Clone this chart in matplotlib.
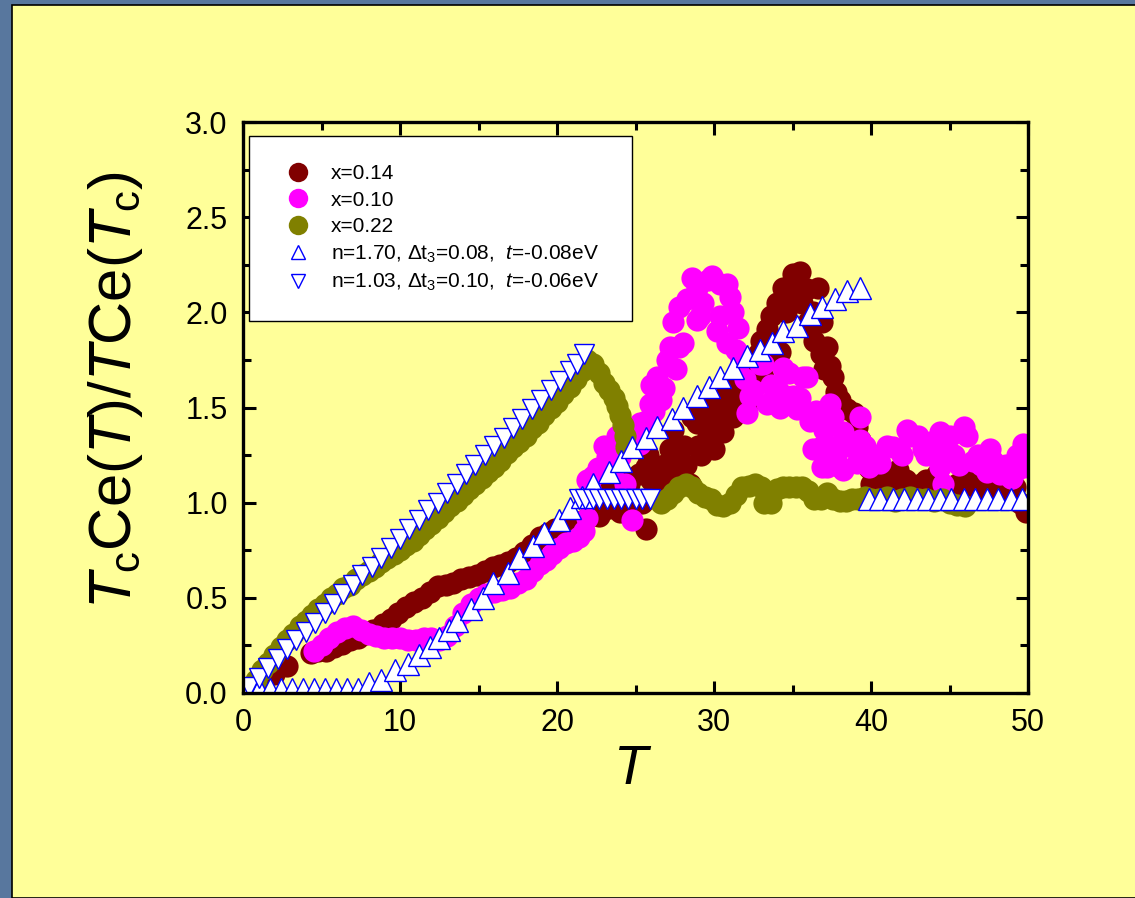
import matplotlib
matplotlib.use("Agg")
import matplotlib.pyplot as plt
from matplotlib.lines import Line2D
from matplotlib.patches import Rectangle

plt.rcParams['font.family'] = ['Liberation Sans', 'DejaVu Sans']
plt.rcParams['mathtext.fontset'] = 'custom'
plt.rcParams['mathtext.rm'] = 'Liberation Sans'
plt.rcParams['mathtext.it'] = 'Liberation Sans:italic'
plt.rcParams['mathtext.bf'] = 'Liberation Sans:bold'

# x=0.14 (dark red circles)
t_014 = [1.2, 2.0, 2.8, 4.3, 4.8, 5.3, 5.8, 6.3, 6.8, 7.3, 7.8, 8.3, 8.9, 9.4, 9.9, 10.4,
         10.9, 11.4, 11.9, 12.4, 12.9, 13.4, 13.9, 14.4, 14.9, 15.4, 15.9, 16.4, 16.9, 17.4,
         17.9, 18.4, 18.9, 19.4, 19.9, 20.4, 20.9, 21.4, 21.9, 22.4, 22.7, 22.9, 23.3, 23.7,
         24.0, 24.3, 24.6, 24.8, 25.0, 25.4, 25.7, 25.7, 26.0, 26.4, 26.6, 26.8, 26.8, 27.2,
         27.5, 27.8, 28.1, 28.5, 28.9, 29.2, 29.6, 29.9, 30.2, 30.4, 30.6, 31.0, 31.3, 31.7,
         32.1, 32.5, 33.1, 33.4, 33.4, 33.8, 34.2, 34.4, 34.8, 35.2, 35.5, 35.9, 36.3, 36.6,
         36.9, 37.2, 37.4, 37.6, 37.8, 38.0, 38.5, 38.9, 39.1, 39.3, 39.6, 39.9, 40.3, 40.8,
         41.2, 41.7, 42.2, 42.7, 43.2, 43.5, 44.0, 44.5, 45.0, 45.5, 46.0, 46.5, 47.0, 47.5,
         48.0, 48.5, 49.0, 49.5, 49.9,
         23.0, 23.5, 24.0, 24.5, 25.2, 25.8, 26.2, 27.0, 27.4, 28.2, 28.6, 29.0, 29.4, 29.8,
         30.0, 30.8, 31.2, 31.6, 32.0, 32.4, 32.8, 33.0, 33.6, 34.0, 34.6, 35.0, 35.6, 36.0,
         36.4, 36.8, 37.0, 38.2, 40.0, 41.0, 42.0, 43.0, 44.2, 45.2, 46.2, 47.2, 48.2, 49.2]
v_014 = [0.05, 0.10, 0.14, 0.21, 0.22, 0.22, 0.24, 0.26, 0.28, 0.29, 0.31, 0.33, 0.36, 0.39, 0.42, 0.45,
         0.48, 0.50, 0.53, 0.56, 0.57, 0.58, 0.60, 0.61, 0.62, 0.64, 0.66, 0.67, 0.69, 0.71,
         0.74, 0.78, 0.82, 0.84, 0.86, 0.87, 0.89, 0.90, 0.92, 0.94, 0.93, 0.96, 0.97, 1.00,
         0.95, 1.05, 1.10, 0.98, 1.02, 1.00, 0.86, 1.19, 1.12, 1.18, 1.10, 1.07, 1.20, 1.28,
         1.15, 1.21, 1.30, 1.10, 1.42, 1.25, 1.35, 1.35, 1.45, 1.54, 1.37, 1.48, 1.60, 1.63,
         1.52, 1.70, 1.66, 1.77, 1.91, 1.85, 1.79, 2.13, 2.05, 2.12, 2.21, 2.12, 2.00, 2.13,
         1.95, 1.82, 1.72, 1.66, 1.58, 1.54, 1.49, 1.47, 1.40, 1.33, 1.25, 1.18, 1.12, 1.10,
         1.14, 1.17, 1.12, 1.08, 1.10, 1.12, 1.08, 1.05, 1.08, 1.10, 1.12, 1.10, 1.08, 1.06,
         1.05, 1.05, 1.03, 1.00, 0.95,
         1.05, 1.08, 1.12, 1.00, 1.15, 1.25, 1.05, 1.12, 1.38, 1.20, 1.45, 1.30, 1.50, 1.42,
         1.28, 1.58, 1.45, 1.52, 1.68, 1.60, 1.78, 1.85, 1.98, 2.05, 2.00, 2.20, 2.05, 1.95,
         1.85, 1.78, 1.70, 1.50, 1.10, 1.05, 1.05, 1.04, 1.15, 1.05, 1.05, 1.12, 1.10, 1.08]

# x=0.10 (magenta circles)
t_010 = [4.5, 5.0, 5.5, 6.0, 6.5, 7.0, 7.5, 8.0, 8.5, 9.0, 9.5, 10.0, 10.5, 11.0, 11.5,
         12.0, 12.5, 13.0, 13.5, 14.0, 14.5, 15.0, 15.5, 16.0, 16.5, 17.0, 17.5, 18.0, 18.5,
         18.9, 19.3, 19.7, 20.1, 20.6, 21.0, 21.4, 21.7, 21.9, 21.9, 22.1, 22.3, 23.2, 23.6,
         24.0, 24.8, 25.3, 25.3, 25.7, 25.9, 26.4, 26.6, 26.8, 27.0, 27.6, 27.8, 27.8, 28.0,
         28.3, 28.9, 28.9, 29.1, 29.6, 29.9, 30.4, 30.4, 30.8, 30.8, 31.2, 31.5, 31.7, 32.1,
         32.3, 32.5, 32.9, 33.1, 33.4, 34.2, 34.4, 34.6, 35.0, 35.3, 35.7, 35.9, 36.1, 36.3,
         36.8, 36.9, 37.2, 37.4, 37.6, 37.6, 38.0, 38.2, 38.2, 39.1, 39.3, 39.3, 39.9, 40.6,
         41.4, 41.8, 42.3, 42.5, 43.3, 43.8, 44.4, 44.4, 44.6, 44.8, 45.3, 45.9, 46.1, 46.5,
         47.0, 47.4, 47.6, 48.0, 48.2, 48.9, 49.0, 49.5, 49.7, 50.0,
         22.6, 23.0, 23.8, 24.3, 25.0, 26.0, 26.2, 27.2, 27.4, 28.6, 29.3, 30.2, 31.0, 31.4,
         32.0, 33.6, 34.0, 34.8, 35.5, 36.5, 37.0, 37.8, 38.6, 39.6, 40.2, 41.0, 42.0, 43.0,
         43.5, 45.0, 45.6, 46.8, 47.8, 48.6, 49.3]
v_010 = [0.22, 0.25, 0.29, 0.32, 0.34, 0.35, 0.33, 0.31, 0.30, 0.29, 0.29, 0.29, 0.28, 0.28, 0.29,
         0.29, 0.28, 0.30, 0.35, 0.42, 0.47, 0.50, 0.52, 0.53, 0.54, 0.55, 0.58, 0.60, 0.64,
         0.68, 0.70, 0.73, 0.76, 0.79, 0.80, 0.82, 0.85, 0.92, 1.12, 1.07, 1.14, 1.24, 1.19,
         1.24, 0.91, 1.31, 1.42, 1.43, 1.52, 1.66, 1.54, 1.60, 1.75, 1.70, 1.82, 2.03, 1.84,
         2.07, 2.13, 1.96, 1.98, 2.17, 2.19, 2.15, 1.98, 2.15, 1.84, 2.00, 1.92, 1.75, 1.47,
         1.56, 1.59, 1.73, 1.73, 1.52, 1.50, 1.71, 1.56, 1.56, 1.49, 1.66, 1.66, 1.43, 1.28,
         1.29, 1.19, 1.19, 1.52, 1.45, 1.29, 1.19, 1.37, 1.17, 1.21, 1.45, 1.33, 1.19, 1.21,
         1.29, 1.28, 1.38, 1.35, 1.28, 1.32, 1.37, 1.19, 1.10, 1.26, 1.25, 1.40, 1.35, 1.22,
         1.20, 1.16, 1.28, 1.19, 1.15, 1.13, 1.13, 1.18, 1.31, 1.19,
         1.18, 1.30, 1.35, 1.10, 1.36, 1.62, 1.48, 1.82, 1.95, 2.18, 2.05, 1.90, 2.08, 1.80,
         1.65, 1.62, 1.60, 1.68, 1.55, 1.48, 1.38, 1.25, 1.30, 1.30, 1.25, 1.30, 1.25, 1.35,
         1.25, 1.35, 1.20, 1.25, 1.22, 1.20, 1.25]

# x=0.22 (olive circles)
t_022 = [0.8, 1.2, 1.6, 2.0, 2.4, 2.8, 3.2, 3.6, 4.0, 4.4, 4.8, 5.2, 5.6, 6.0, 6.4, 6.8,
         7.2, 7.6, 8.0, 8.4, 8.8, 9.2, 9.6, 10.0, 10.4, 10.8, 11.2, 11.6, 12.0, 12.4, 12.8,
         13.2, 13.6, 14.0, 14.4, 14.8, 15.2, 15.6, 16.0, 16.4, 16.8, 17.2, 17.6, 18.0, 18.4,
         18.8, 19.2, 19.6, 20.0, 20.4, 20.8, 21.2, 21.6, 21.9, 22.3, 22.7, 23.0, 23.3, 23.6,
         23.8, 24.0, 24.2, 24.3, 24.4, 26.6, 27.0, 27.4, 27.8, 28.2, 28.6, 29.0, 29.4, 29.8,
         30.2, 30.6, 31.0, 31.4, 31.8, 32.2, 32.6, 33.0, 33.2, 33.6, 34.0, 34.4, 34.8, 35.2,
         35.6, 36.0, 36.4, 36.8, 37.2, 37.6, 38.0, 38.4, 38.8, 39.2, 39.6, 40.0, 40.5, 41.0,
         41.5, 42.0, 42.5, 43.0, 43.5, 44.0, 44.5, 45.0, 45.5, 46.0]
v_022 = [0.07, 0.12, 0.16, 0.20, 0.24, 0.28, 0.31, 0.35, 0.38, 0.41, 0.44, 0.47, 0.50, 0.52, 0.55, 0.57,
         0.60, 0.62, 0.64, 0.66, 0.69, 0.71, 0.73, 0.75, 0.78, 0.80, 0.83, 0.86, 0.89, 0.92, 0.95,
         0.98, 1.01, 1.04, 1.07, 1.10, 1.13, 1.16, 1.19, 1.22, 1.26, 1.29, 1.32, 1.35, 1.39,
         1.42, 1.46, 1.50, 1.53, 1.57, 1.61, 1.65, 1.69, 1.75, 1.73, 1.68, 1.63, 1.59, 1.55,
         1.51, 1.46, 1.41, 1.35, 1.29, 1.00, 1.02, 1.05, 1.08, 1.10, 1.08, 1.05, 1.03, 1.02,
         0.99, 0.98, 1.00, 1.04, 1.08, 1.09, 1.10, 1.08, 1.00, 1.00, 1.07, 1.08, 1.08, 1.08,
         1.08, 1.06, 1.02, 1.02, 1.05, 1.02, 1.01, 1.01, 1.02, 1.02, 1.03, 1.02, 1.02, 1.03,
         1.01, 1.02, 1.03, 1.02, 1.02, 1.01, 1.02, 1.00, 0.99, 0.98]

# n=1.70, dt3=0.08, t=-0.08eV (up triangles)
t_up = [0.3, 1.0, 1.7, 2.4, 3.1, 3.8, 4.5, 5.2, 5.9, 6.6, 7.3, 8.0, 8.8, 9.7, 10.5, 11.2,
        11.9, 12.5, 13.1, 13.6, 14.5, 15.3, 15.9, 16.9, 17.6, 18.5, 19.2, 20.1, 20.8, 21.6,
        22.3, 23.3, 24.1, 24.8, 25.7, 26.4, 27.3, 28.0, 28.9, 29.7, 30.4, 31.2, 32.1, 32.9,
        33.7, 34.4, 35.3, 36.1, 36.9, 37.7, 38.5, 39.3, 39.9, 40.6, 41.4, 42.1, 42.9, 43.6,
        44.4, 45.1, 45.9, 46.6, 47.4, 48.1, 48.9, 49.6]
v_up = [0.02, 0.02, 0.02, 0.02, 0.02, 0.02, 0.02, 0.02, 0.02, 0.02, 0.02, 0.05, 0.07, 0.12, 0.15, 0.20,
        0.24, 0.29, 0.33, 0.38, 0.44, 0.50, 0.58, 0.63, 0.71, 0.77, 0.84, 0.91, 0.97, 1.03,
        1.10, 1.16, 1.22, 1.29, 1.34, 1.40, 1.44, 1.50, 1.56, 1.61, 1.66, 1.71, 1.77, 1.80,
        1.84, 1.90, 1.93, 1.99, 2.03, 2.07, 2.11, 2.13, 1.02, 1.02, 1.02, 1.02, 1.02, 1.02,
        1.02, 1.02, 1.02, 1.02, 1.02, 1.02, 1.02, 1.02]

# n=1.03, dt3=0.10, t=-0.06eV (down triangles)
t_dn = [0.4, 1.0, 1.6, 2.2, 2.8, 3.4, 4.0, 4.6, 5.2, 5.8, 6.4, 7.0, 7.6, 8.2, 8.8, 9.4,
        10.0, 10.6, 11.2, 11.8, 12.4, 13.0, 13.6, 14.2, 14.8, 15.4, 16.0, 16.6, 17.2, 17.8,
        18.4, 19.0, 19.6, 20.2, 20.8, 21.3, 21.7, 21.4, 21.8, 22.3, 22.7, 23.2, 23.6, 24.1,
        24.5, 25.0, 25.4, 25.9]
v_dn = [0.03, 0.08, 0.13, 0.18, 0.23, 0.28, 0.32, 0.37, 0.42, 0.47, 0.52, 0.57, 0.62, 0.66, 0.71, 0.76,
        0.81, 0.86, 0.91, 0.96, 1.00, 1.05, 1.10, 1.15, 1.20, 1.25, 1.30, 1.34, 1.39, 1.44,
        1.49, 1.54, 1.59, 1.64, 1.69, 1.73, 1.78, 1.02, 1.02, 1.02, 1.02, 1.02, 1.02, 1.02,
        1.02, 1.02, 1.02, 1.02]

labels = ["x=0.14", "x=0.10", "x=0.22",
          "n=1.70, Δt$_3$=0.08,  $t$=-0.08eV",
          "n=1.03, Δt$_3$=0.10,  $t$=-0.06eV"]

fig = plt.figure(figsize=(11.35, 8.98), dpi=100, facecolor='#58779e')
# yellow slide panel behind the axes
panel = Rectangle((12 / 1135, 0), 1.0, 1 - 5 / 898, transform=fig.transFigure,
                  facecolor='#ffff99', edgecolor='black', linewidth=1.2, zorder=-10)
fig.add_artist(panel)

ax = fig.add_axes([243 / 1135, 1 - 693 / 898, 785 / 1135, 571 / 898])
ax.set_facecolor('#ffff99')
ax.set_zorder(1)

ms = 16
ax.plot(t_014, v_014, 'o', color='#800000', ms=ms, mew=0)
ax.plot(t_010, v_010, 'o', color='#ff00ff', ms=ms, mew=0)
ax.plot(t_022, v_022, 'o', color='#808000', ms=ms, mew=0)
ax.plot(t_up, v_up, '^', mfc='white', mec='#0000ff', ms=16, mew=1.0)
ax.plot(t_dn, v_dn, 'v', mfc='white', mec='#0000ff', ms=15, mew=1.0)

ax.set_xlim(0, 50)
ax.set_ylim(0, 3.0)
ax.set_xticks([0, 10, 20, 30, 40, 50])
ax.set_xticks([5, 15, 25, 35, 45], minor=True)
ax.set_yticks([0.0, 0.5, 1.0, 1.5, 2.0, 2.5, 3.0])
ax.set_yticklabels(['0.0', '0.5', '1.0', '1.5', '2.0', '2.5', '3.0'])
ax.set_yticks([0.25, 0.75, 1.25, 1.75, 2.25, 2.75], minor=True)
ax.tick_params(which='both', direction='in', top=True, right=True, width=2.2, labelsize=22, pad=11)
ax.tick_params(which='major', length=9)
ax.tick_params(which='minor', length=5.5)
for s in ax.spines.values():
    s.set_linewidth(2.4)

ax.set_xlabel('$T$', fontsize=40)
ax.xaxis.set_label_coords(0.496, -0.09)
ax.set_ylabel(r'$T_{\rm c}$Ce($T$)/$T$Ce($T_{\rm c}$)', fontsize=43)
ax.yaxis.set_label_coords(-0.125, 0.53)

# legend box
ax.add_patch(Rectangle((6 / 785, 372 / 571), 383 / 785, 185 / 571,
                       transform=ax.transAxes, facecolor='white', edgecolor='black',
                       linewidth=1.0, zorder=5))
handles = [Line2D([], [], ls='none', marker='o', color='#800000', ms=14, mew=0),
           Line2D([], [], ls='none', marker='o', color='#ff00ff', ms=14, mew=0),
           Line2D([], [], ls='none', marker='o', color='#808000', ms=14, mew=0),
           Line2D([], [], ls='none', marker='^', mfc='white', mec='#0000ff', ms=10, mew=1.0),
           Line2D([], [], ls='none', marker='v', mfc='white', mec='#0000ff', ms=10, mew=1.0)]
leg = ax.legend(handles, labels, loc='upper left', bbox_to_anchor=(0.043, 0.944),
                frameon=False, fontsize=15, borderpad=0, handlelength=1.0,
                handletextpad=1.1, labelspacing=0.35)
leg.set_zorder(6)

fig.savefig('out.png', dpi=100, facecolor=fig.get_facecolor())
